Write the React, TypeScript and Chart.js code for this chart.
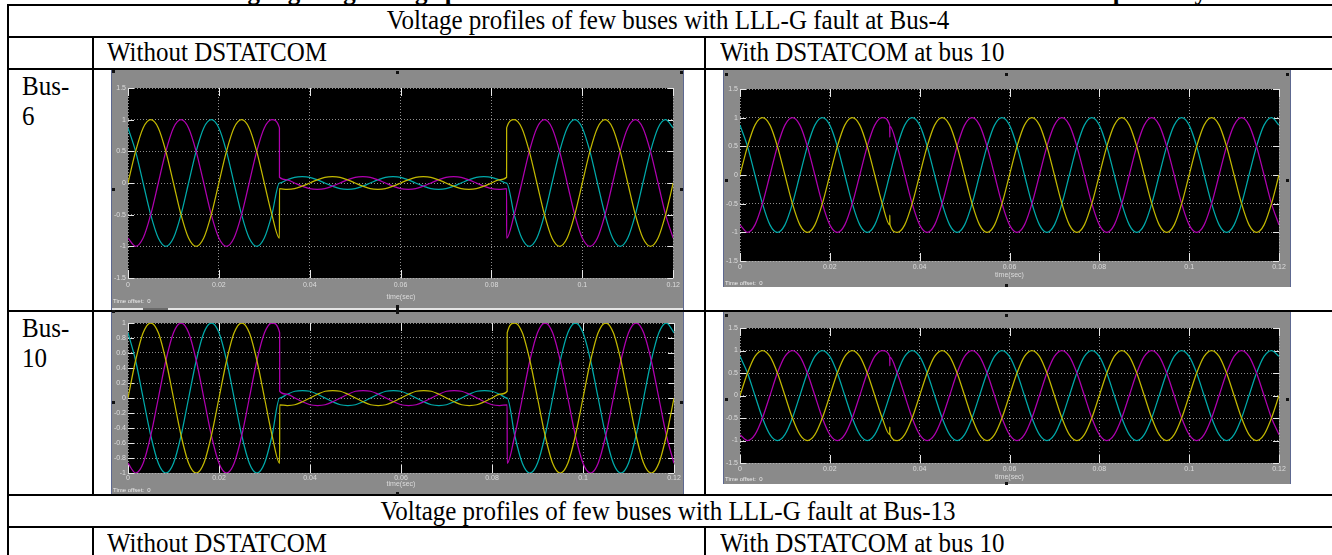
import React, { useEffect, useRef } from 'react';
import { Chart, registerables } from 'chart.js';

Chart.register(...registerables);

// ---------- DATA ----------
const timeSteady = [
  0, 0.00167, 0.00333, 0.005, 0.00667, 0.00833, 0.01, 0.01167, 0.01333, 0.015, 0.01667, 0.01833,
  0.02, 0.02167, 0.02333, 0.025, 0.02667, 0.02833, 0.03, 0.03167, 0.03333, 0.035, 0.03667, 0.03833,
  0.04, 0.04167, 0.04333, 0.045, 0.04667, 0.04833, 0.05, 0.05167, 0.05333, 0.055, 0.05667, 0.05833,
  0.06, 0.06167, 0.06333, 0.065, 0.06667, 0.06833, 0.07, 0.07167, 0.07333, 0.075, 0.07667, 0.07833,
  0.08, 0.08167, 0.08333, 0.085, 0.08667, 0.08833, 0.09, 0.09167, 0.09333, 0.095, 0.09667, 0.09833,
  0.1, 0.10167, 0.10333, 0.105, 0.10667, 0.10833, 0.11, 0.11167, 0.11333, 0.115, 0.11667, 0.11833, 0.12,
];

const timeFault = [
  0, 0.00167, 0.00333, 0.005, 0.00667, 0.00833, 0.01, 0.01167, 0.01333, 0.015, 0.01667, 0.01833,
  0.02, 0.02167, 0.02333, 0.025, 0.02667, 0.02833, 0.03, 0.03167, 0.03333, 0.03334, 0.035, 0.03667, 0.03833,
  0.04, 0.04167, 0.04333, 0.045, 0.04667, 0.04833, 0.05, 0.05167, 0.05333, 0.055, 0.05667, 0.05833,
  0.06, 0.06167, 0.06333, 0.065, 0.06667, 0.06833, 0.07, 0.07167, 0.07333, 0.075, 0.07667, 0.07833,
  0.08, 0.08167, 0.08333, 0.08334, 0.085, 0.08667, 0.08833, 0.09, 0.09167, 0.09333, 0.095, 0.09667, 0.09833,
  0.1, 0.10167, 0.10333, 0.105, 0.10667, 0.10833, 0.11, 0.11167, 0.11333, 0.115, 0.11667, 0.11833, 0.12,
];

const timeGlitch = [
  0, 0.00167, 0.00333, 0.005, 0.00667, 0.00833, 0.01, 0.01167, 0.01333, 0.015, 0.01667, 0.01833,
  0.02, 0.02167, 0.02333, 0.025, 0.02667, 0.02833, 0.03, 0.03167, 0.03333, 0.03335, 0.03338, 0.035, 0.03667, 0.03833,
  0.04, 0.04167, 0.04333, 0.045, 0.04667, 0.04833, 0.05, 0.05167, 0.05333, 0.055, 0.05667, 0.05833,
  0.06, 0.06167, 0.06333, 0.065, 0.06667, 0.06833, 0.07, 0.07167, 0.07333, 0.075, 0.07667, 0.07833,
  0.08, 0.08167, 0.08333, 0.085, 0.08667, 0.08833, 0.09, 0.09167, 0.09333, 0.095, 0.09667, 0.09833,
  0.1, 0.10167, 0.10333, 0.105, 0.10667, 0.10833, 0.11, 0.11167, 0.11333, 0.115, 0.11667, 0.11833, 0.12,
];

// Without DSTATCOM (LLL-G fault between 0.0333 s and 0.0833 s)
const yellowFault = [
  0, 0.5, 0.87, 1, 0.87, 0.5, 0, -0.5, -0.87, -1, -0.87, -0.5,
  0, 0.5, 0.87, 1, 0.87, 0.5, 0, -0.5, -0.87, -0.09, -0.1, -0.09, -0.05,
  0, 0.05, 0.09, 0.1, 0.09, 0.05, 0, -0.05, -0.09, -0.1, -0.09, -0.05,
  0, 0.05, 0.09, 0.1, 0.09, 0.05, 0, -0.05, -0.09, -0.1, -0.09, -0.05,
  0, 0.05, 0.09, 0.87, 1, 0.87, 0.5, 0, -0.5, -0.87, -1, -0.87, -0.5,
  0, 0.5, 0.87, 1, 0.87, 0.5, 0, -0.5, -0.87, -1, -0.87, -0.5, 0,
];
const magentaFault = [
  -0.87, -1, -0.87, -0.5, 0, 0.5, 0.87, 1, 0.87, 0.5, 0, -0.5,
  -0.87, -1, -0.87, -0.5, 0, 0.5, 0.87, 1, 0.87, 0.09, 0.05, 0, -0.05,
  -0.09, -0.1, -0.09, -0.05, 0, 0.05, 0.09, 0.1, 0.09, 0.05, 0, -0.05,
  -0.09, -0.1, -0.09, -0.05, 0, 0.05, 0.09, 0.1, 0.09, 0.05, 0, -0.05,
  -0.09, -0.1, -0.09, -0.87, -0.5, 0, 0.5, 0.87, 1, 0.87, 0.5, 0, -0.5,
  -0.87, -1, -0.87, -0.5, 0, 0.5, 0.87, 1, 0.87, 0.5, 0, -0.5, -0.87,
];
const cyanFault = [
  0.87, 0.5, 0, -0.5, -0.87, -1, -0.87, -0.5, 0, 0.5, 0.87, 1,
  0.87, 0.5, 0, -0.5, -0.87, -1, -0.87, -0.5, 0, 0, 0.05, 0.09, 0.1,
  0.09, 0.05, 0, -0.05, -0.09, -0.1, -0.09, -0.05, 0, 0.05, 0.09, 0.1,
  0.09, 0.05, 0, -0.05, -0.09, -0.1, -0.09, -0.05, 0, 0.05, 0.09, 0.1,
  0.09, 0.05, 0, 0, -0.5, -0.87, -1, -0.87, -0.5, 0, 0.5, 0.87, 1,
  0.87, 0.5, 0, -0.5, -0.87, -1, -0.87, -0.5, 0, 0.5, 0.87, 1, 0.87,
];

// With DSTATCOM at bus 10 (small transient at fault instant)
const yellowDst = [
  0, 0.5, 0.87, 1, 0.87, 0.5, 0, -0.5, -0.87, -1, -0.87, -0.5,
  0, 0.5, 0.87, 1, 0.87, 0.5, 0, -0.5, -0.87, -0.7, -0.86, -1, -0.87, -0.5,
  0, 0.5, 0.87, 1, 0.87, 0.5, 0, -0.5, -0.87, -1, -0.87, -0.5,
  0, 0.5, 0.87, 1, 0.87, 0.5, 0, -0.5, -0.87, -1, -0.87, -0.5,
  0, 0.5, 0.87, 1, 0.87, 0.5, 0, -0.5, -0.87, -1, -0.87, -0.5,
  0, 0.5, 0.87, 1, 0.87, 0.5, 0, -0.5, -0.87, -1, -0.87, -0.5, 0,
];
const magentaDst = [
  -0.87, -1, -0.87, -0.5, 0, 0.5, 0.87, 1, 0.87, 0.5, 0, -0.5,
  -0.87, -1, -0.87, -0.5, 0, 0.5, 0.87, 1, 0.87, 0.66, 0.85, 0.5, 0, -0.5,
  -0.87, -1, -0.87, -0.5, 0, 0.5, 0.87, 1, 0.87, 0.5, 0, -0.5,
  -0.87, -1, -0.87, -0.5, 0, 0.5, 0.87, 1, 0.87, 0.5, 0, -0.5,
  -0.87, -1, -0.87, -0.5, 0, 0.5, 0.87, 1, 0.87, 0.5, 0, -0.5,
  -0.87, -1, -0.87, -0.5, 0, 0.5, 0.87, 1, 0.87, 0.5, 0, -0.5, -0.87,
];
const cyanDst = [
  0.87, 0.5, 0, -0.5, -0.87, -1, -0.87, -0.5, 0, 0.5, 0.87, 1,
  0.87, 0.5, 0, -0.5, -0.87, -1, -0.87, -0.5, 0, 0.5, 0.87, 1,
  0.87, 0.5, 0, -0.5, -0.87, -1, -0.87, -0.5, 0, 0.5, 0.87, 1,
  0.87, 0.5, 0, -0.5, -0.87, -1, -0.87, -0.5, 0, 0.5, 0.87, 1,
  0.87, 0.5, 0, -0.5, -0.87, -1, -0.87, -0.5, 0, 0.5, 0.87, 1,
  0.87, 0.5, 0, -0.5, -0.87, -1, -0.87, -0.5, 0, 0.5, 0.87, 1, 0.87,
];

const xTickValues = [0, 0.02, 0.04, 0.06, 0.08, 0.1, 0.12];
const xTickLabels = ['0', '0.02', '0.04', '0.06', '0.08', '0.1', '0.12'];
const yTickValuesWide = [-1.5, -1, -0.5, 0, 0.5, 1, 1.5];
const yTickLabelsWide = ['-1.5', '-1', '-0.5', '0', '0.5', '1', '1.5'];
const yTickValuesUnit = [-1, -0.8, -0.6, -0.4, -0.2, 0, 0.2, 0.4, 0.6, 0.8, 1];
const yTickLabelsUnit = ['-1', '-0.8', '-0.6', '-0.4', '-0.2', '0', '0.2', '0.4', '0.6', '0.8', '1'];

const caption = 'Table 6: Highlighting voltage profiles of few buses with LLL-G fault at Bus-4 and Bus-13 respectively';
const section1 = 'Voltage profiles of few buses with LLL-G fault at Bus-4';
const section2 = 'Voltage profiles of few buses with LLL-G fault at Bus-13';
const colWithout = 'Without DSTATCOM';
const colWith = 'With DSTATCOM at bus 10';

// ---------- STYLE ----------
const SERIF = '"Liberation Serif", "Times New Roman", serif';
const SANS = '"Liberation Sans Narrow", "Liberation Sans", Arial, sans-serif';
const YELLOW = '#c2b800';
const MAGENTA = '#b000b0';
const CYAN = '#00aaaa';
const PANEL = '#8a8a8a';
const LABEL = '#dcdcdc';

const scopePlugin = {
  id: 'scopeLook',
  beforeDraw(chart: any) {
    const { ctx, chartArea: a } = chart;
    ctx.save();
    ctx.fillStyle = '#000';
    ctx.fillRect(a.left, a.top, a.right - a.left, a.bottom - a.top);
    ctx.restore();
  },
  beforeDatasetsDraw(chart: any) {
    const { ctx, chartArea: a, scales } = chart;
    ctx.save();
    ctx.strokeStyle = '#e6e6e6';
    ctx.lineWidth = 1;
    ctx.beginPath();
    scales.x.ticks.forEach((t: any) => {
      const px = Math.round(scales.x.getPixelForValue(t.value)) + 0.5;
      ctx.moveTo(px, a.top);
      ctx.lineTo(px, a.top + 8);
      ctx.moveTo(px, a.bottom);
      ctx.lineTo(px, a.bottom - 8);
    });
    scales.y.ticks.forEach((t: any) => {
      const py = Math.round(scales.y.getPixelForValue(t.value)) + 0.5;
      ctx.moveTo(a.left, py);
      ctx.lineTo(a.left + 6, py);
      ctx.moveTo(a.right, py);
      ctx.lineTo(a.right - 6, py);
    });
    ctx.stroke();
    ctx.restore();
  },
};

type Series = { t: number[]; v: number[]; color: string };

type ScopeProps = {
  left: number; top: number; width: number; height: number;
  inset: { left: number; top: number; right: number; bottom: number };
  yMin: number; yMax: number; yValues: number[]; yLabels: string[];
  series: Series[];
  xPad: number;
  timeLabelY: number;
  offsetY: number;
};

function Scope(p: ScopeProps) {
  const ref = useRef<HTMLCanvasElement | null>(null);
  useEffect(() => {
    const font = { size: 7, family: SANS };
    const chart = new Chart(ref.current as HTMLCanvasElement, {
      type: 'line',
      data: {
        datasets: p.series.map((s) => ({
          data: s.t.map((t, i) => ({ x: t, y: s.v[i] })),
          borderColor: s.color,
          borderWidth: 1.25,
          pointRadius: 0,
          fill: false,
          cubicInterpolationMode: 'monotone' as const,
        })),
      },
      options: {
        animation: false,
        responsive: false,
        maintainAspectRatio: false,
        devicePixelRatio: 1,
        events: [],
        layout: { padding: { left: 0, top: p.inset.top, right: p.inset.right, bottom: 0 } },
        plugins: { legend: { display: false }, tooltip: { enabled: false }, title: { display: false } },
        scales: {
          x: {
            type: 'linear',
            min: 0,
            max: 0.12,
            afterFit: (s: any) => { s.height = p.inset.bottom; },
            afterBuildTicks: (s: any) => { s.ticks = xTickValues.map((v) => ({ value: v })); },
            ticks: {
              callback: (_v: any, i: number) => xTickLabels[i],
              color: LABEL, font, padding: p.xPad, maxRotation: 0, autoSkip: false,
            },
            grid: { color: 'rgba(190,190,190,0.75)', drawTicks: false, lineWidth: 1 },
            border: { display: false, dash: [1, 2] },
          },
          y: {
            type: 'linear',
            min: p.yMin,
            max: p.yMax,
            afterFit: (s: any) => { s.width = p.inset.left; },
            afterBuildTicks: (s: any) => { s.ticks = p.yValues.map((v) => ({ value: v })); },
            ticks: {
              callback: (_v: any, i: number) => p.yLabels[i],
              color: LABEL, font, padding: 2, autoSkip: false,
            },
            grid: { color: 'rgba(190,190,190,0.75)', drawTicks: false, lineWidth: 1 },
            border: { display: false, dash: [1, 2] },
          },
        },
      } as any,
      plugins: [scopePlugin],
    });
    return () => chart.destroy();
  }, []);
  const chartW = p.width - p.inset.left - p.inset.right;
  return (
    <div style={{ position: 'absolute', left: p.left, top: p.top, width: p.width, height: p.height, background: PANEL, borderLeft: '1px solid #5d6890', borderRight: '1px solid #5d6890', boxSizing: 'border-box', overflow: 'hidden' }}>
      <canvas ref={ref} width={p.width - 2} height={p.height} style={{ display: 'block', width: p.width - 2, height: p.height }} />
      <div style={{ position: 'absolute', left: p.inset.left + chartW / 2 - 1, top: p.timeLabelY - 4, transform: 'translateX(-50%)', font: `7px ${SANS}`, color: LABEL, whiteSpace: 'nowrap', lineHeight: '8px' }}>time(sec)</div>
      <div style={{ position: 'absolute', left: 1, top: p.offsetY - 4, font: `6px ${SANS}`, color: '#ececec', whiteSpace: 'nowrap', lineHeight: '8px' }}>Time offset:&nbsp;&nbsp;0</div>
    </div>
  );
}

function Txt({ x, base, children, center = false, bold = false }: { x: number; base: number; children: React.ReactNode; center?: boolean; bold?: boolean }) {
  return (
    <div style={{ position: 'absolute', left: x, top: base - 22.6, fontFamily: SERIF, fontSize: 25, lineHeight: '25px', whiteSpace: 'nowrap', fontWeight: bold ? 700 : 400, color: '#000', transform: center ? 'translateX(-50%) scaleY(1.08)' : 'scaleY(1.08)', transformOrigin: 'left top' }}>
      {children}
    </div>
  );
}

function Bar({ l, t, w, h, c = '#000' }: { l: number; t: number; w: number; h: number; c?: string }) {
  return <div style={{ position: 'absolute', left: l, top: t, width: w, height: h, background: c }} />;
}

const handles: [number, number, number?][] = [
  [112, 70], [396, 71], [680, 71], [112, 188], [680, 188], [396, 305, 9], [112, 310],
  [112, 401], [396, 492], [680, 401],
  [725, 73], [1005, 73], [1286, 73], [725, 179], [1286, 179], [1005, 284],
  [725, 314], [1005, 314], [725, 398], [1286, 398], [1005, 482],
];

export default function App() {
  return (
    <div style={{ position: 'fixed', left: 0, top: 0, width: 1332, height: 555, overflow: 'hidden', background: '#fff' }}>
      {/* caption, only descenders visible */}
      <Txt x={668} base={-1.5} center bold>{caption}</Txt>

      {/* table rules */}
      <Bar l={7} t={4} w={1340} h={2} />
      <Bar l={7} t={36} w={1340} h={2} />
      <Bar l={7} t={68} w={1340} h={2} />
      <Bar l={7} t={310} w={1340} h={2} />
      <Bar l={7} t={494} w={1340} h={2} />
      <Bar l={7} t={526} w={1340} h={2} />
      <Bar l={7} t={4} w={2} h={560} />
      <Bar l={92} t={36} w={2} h={460} />
      <Bar l={92} t={526} w={2} h={40} />
      <Bar l={704} t={36} w={2} h={460} />
      <Bar l={704} t={526} w={2} h={40} />

      {/* texts */}
      <Txt x={668} base={29} center>{section1}</Txt>
      <Txt x={107} base={61}>{colWithout}</Txt>
      <Txt x={720} base={61}>{colWith}</Txt>
      <Txt x={22} base={95}>Bus-</Txt>
      <Txt x={22} base={125}>6</Txt>
      <Txt x={22} base={337}>Bus-</Txt>
      <Txt x={22} base={367}>10</Txt>
      <Txt x={668} base={519.5} center>{section2}</Txt>
      <Txt x={107} base={551.5}>{colWithout}</Txt>
      <Txt x={720} base={551.5}>{colWith}</Txt>

      {/* Bus-6 without */}
      <Scope left={111} top={70} width={573} height={240}
        inset={{ left: 16, top: 18, right: 9, bottom: 32 }}
        yMin={-1.5} yMax={1.5} yValues={yTickValuesWide} yLabels={yTickLabelsWide}
        series={[{ t: timeFault, v: yellowFault, color: YELLOW }, { t: timeFault, v: magentaFault, color: MAGENTA }, { t: timeFault, v: cyanFault, color: CYAN }]}
        xPad={3} timeLabelY={227} offsetY={231} />
      <Bar l={112} t={308} w={571} h={2} c="#e4e4e4" />
      <Bar l={143} t={308} w={25} h={2} c="#6a6a6a" />

      {/* Bus-6 with */}
      <Scope left={723} top={70} width={568} height={217}
        inset={{ left: 16, top: 19, right: 11, bottom: 26 }}
        yMin={-1.5} yMax={1.5} yValues={yTickValuesWide} yLabels={yTickLabelsWide}
        series={[{ t: timeGlitch, v: yellowDst, color: YELLOW }, { t: timeGlitch, v: magentaDst, color: MAGENTA }, { t: timeSteady, v: cyanDst, color: CYAN }]}
        xPad={2} timeLabelY={205} offsetY={212.5} />

      {/* Bus-10 without */}
      <Scope left={111} top={312} width={573} height={182}
        inset={{ left: 16, top: 11, right: 9, bottom: 21 }}
        yMin={-1} yMax={1} yValues={yTickValuesUnit} yLabels={yTickLabelsUnit}
        series={[{ t: timeFault, v: yellowFault, color: YELLOW }, { t: timeFault, v: magentaFault, color: MAGENTA }, { t: timeFault, v: cyanFault, color: CYAN }]}
        xPad={1} timeLabelY={172} offsetY={178} />

      {/* Bus-10 with */}
      <Scope left={723} top={312} width={568} height={172}
        inset={{ left: 16, top: 16, right: 11, bottom: 21 }}
        yMin={-1.5} yMax={1.5} yValues={yTickValuesWide} yLabels={yTickLabelsWide}
        series={[{ t: timeGlitch, v: yellowDst, color: YELLOW }, { t: timeGlitch, v: magentaDst, color: MAGENTA }, { t: timeSteady, v: cyanDst, color: CYAN }]}
        xPad={1.5} timeLabelY={165} offsetY={167} />

      {handles.map(([x, y, h], i) => (
        <Bar key={i} l={x} t={y} w={3} h={h ?? 3} c="#111" />
      ))}
    </div>
  );
}
